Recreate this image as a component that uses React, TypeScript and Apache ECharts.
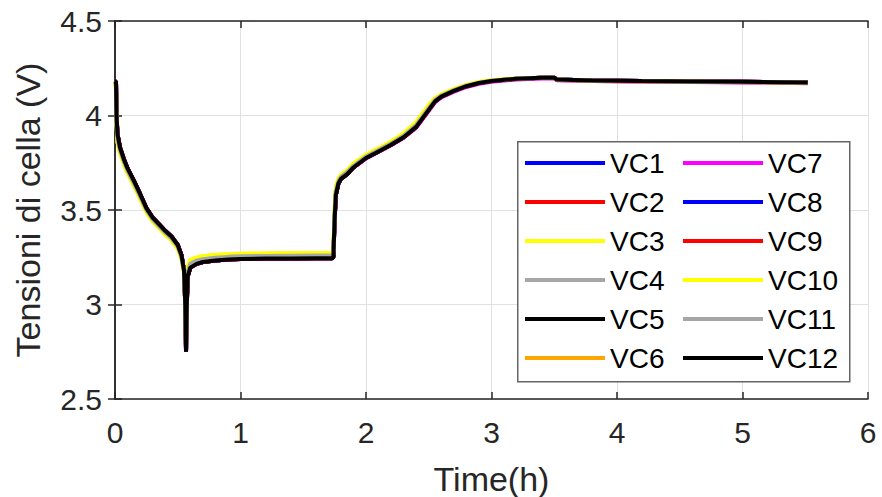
import React, { useEffect, useRef } from "react";
import * as echarts from "echarts";

// Time axis (hours)
const timeH = [0, 0.008, 0.012, 0.02, 0.04, 0.07, 0.1, 0.15, 0.2, 0.25, 0.3, 0.35, 0.4, 0.45, 0.5, 0.53, 0.55, 0.56, 0.566, 0.572, 0.58, 0.6, 0.65, 0.7, 0.8, 0.9, 1.0, 1.2, 1.4, 1.6, 1.73, 1.74, 1.75, 1.76, 1.78, 1.8, 1.85, 1.9, 2.0, 2.1, 2.2, 2.3, 2.4, 2.5, 2.55, 2.6, 2.7, 2.8, 2.9, 3.0, 3.2, 3.4, 3.5, 3.52, 3.8, 4.2, 4.6, 5.0, 5.3, 5.52];

// Cell voltages (V)
const vcNominal = [4.18, 4.18, 4.0, 3.9, 3.83, 3.77, 3.72, 3.655, 3.585, 3.51,
  3.46, 3.425, 3.39, 3.36, 3.315, 3.26, 3.18, 3.0, 2.75, 3.0,
  3.15, 3.195, 3.215, 3.225, 3.233, 3.238, 3.241, 3.243, 3.244, 3.245,
  3.245, 3.25, 3.45, 3.58, 3.64, 3.665, 3.69, 3.725, 3.775, 3.81,
  3.845, 3.885, 3.94, 4.03, 4.075, 4.1, 4.13, 4.155, 4.172, 4.183,
  4.195, 4.2, 4.2, 4.19, 4.185, 4.182, 4.18, 4.178, 4.176, 4.174];

const vcYellow = [4.17, 4.15, 3.96, 3.86, 3.8, 3.745, 3.695, 3.63, 3.56, 3.49,
  3.44, 3.405, 3.37, 3.34, 3.295, 3.24, 3.17, 3.0, 2.78, 3.05,
  3.2, 3.235, 3.248, 3.255, 3.262, 3.266, 3.268, 3.27, 3.271, 3.272,
  3.272, 3.28, 3.5, 3.62, 3.665, 3.685, 3.71, 3.745, 3.792, 3.826,
  3.862, 3.905, 3.965, 4.055, 4.09, 4.112, 4.14, 4.162, 4.177, 4.186,
  4.196, 4.2, 4.2, 4.19, 4.184, 4.181, 4.179, 4.177, 4.175, 4.173];

const vcGray = [4.18, 4.16, 3.98, 3.88, 3.815, 3.757, 3.707, 3.642, 3.572, 3.5,
  3.45, 3.415, 3.38, 3.35, 3.305, 3.25, 3.175, 3.0, 2.76, 3.02,
  3.175, 3.215, 3.232, 3.24, 3.248, 3.252, 3.255, 3.257, 3.258, 3.259,
  3.259, 3.265, 3.47, 3.6, 3.652, 3.675, 3.7, 3.734, 3.783, 3.817,
  3.852, 3.893, 3.95, 4.04, 4.082, 4.105, 4.134, 4.158, 4.174, 4.184,
  4.195, 4.2, 4.2, 4.19, 4.185, 4.182, 4.18, 4.178, 4.176, 4.174];

const vcOrange = [4.18, 4.17, 3.99, 3.89, 3.825, 3.765, 3.715, 3.65, 3.58, 3.505,
  3.455, 3.42, 3.385, 3.355, 3.31, 3.255, 3.18, 3.0, 2.77, 3.04,
  3.19, 3.23, 3.245, 3.252, 3.258, 3.262, 3.265, 3.267, 3.268, 3.269,
  3.269, 3.275, 3.48, 3.6, 3.65, 3.672, 3.696, 3.73, 3.779, 3.813,
  3.848, 3.888, 3.943, 4.033, 4.077, 4.101, 4.131, 4.155, 4.171, 4.182,
  4.193, 4.198, 4.198, 4.188, 4.183, 4.18, 4.178, 4.176, 4.174, 4.172];

const vcMagenta = [4.18, 4.18, 4.0, 3.9, 3.83, 3.77, 3.72, 3.655, 3.585, 3.51,
  3.46, 3.425, 3.39, 3.36, 3.315, 3.26, 3.18, 3.0, 2.75, 3.0,
  3.15, 3.195, 3.215, 3.225, 3.233, 3.238, 3.241, 3.243, 3.244, 3.245,
  3.245, 3.25, 3.45, 3.58, 3.64, 3.665, 3.69, 3.724, 3.773, 3.808,
  3.843, 3.882, 3.936, 4.025, 4.07, 4.096, 4.126, 4.151, 4.168, 4.179,
  4.191, 4.196, 4.197, 4.187, 4.182, 4.179, 4.177, 4.175, 4.173, 4.171];

const seriesNames = ["VC1", "VC2", "VC3", "VC4", "VC5", "VC6", "VC7", "VC8", "VC9", "VC10", "VC11", "VC12"];
const seriesColors = ["#0000ff", "#ff0000", "#ffff00", "#a6a6a6", "#000000", "#ffa500", "#ff00ff", "#0000ff", "#ff0000", "#ffff00", "#a6a6a6", "#000000"];
const seriesValues = [vcNominal, vcNominal, vcYellow, vcGray, vcNominal, vcOrange, vcMagenta, vcNominal, vcNominal, vcYellow, vcGray, vcNominal];

const xTicks = { min: 0, max: 6, interval: 1 };
const yTicks = { min: 2.5, max: 4.5, interval: 0.5 };

const FONT = "'Liberation Sans', Arial, Helvetica, sans-serif";
const AX = "#262626";

export default function App() {
  const ref = useRef<HTMLDivElement>(null);
  useEffect(() => {
    if (!ref.current) return;
    const chart = echarts.init(ref.current, undefined, { renderer: "svg" });
    const series = seriesNames.map((name, i) => ({
      name,
      type: "line",
      xAxisIndex: 0,
      yAxisIndex: 0,
      data: timeH.map((t, j) => [t, seriesValues[i][j]]),
      symbol: "none",
      showSymbol: false,
      lineStyle: { color: seriesColors[i], width: 4 },
      itemStyle: { color: seriesColors[i] },
      z: 2,
    }));
    const legendCommon = {
      orient: "vertical",
      icon: "rect",
      itemWidth: 80,
      itemHeight: 4,
      itemGap: 9,
      padding: 0,
      top: 148,
      z: 5,
      selectedMode: false,
      textStyle: { fontSize: 28, lineHeight: 30, color: "#000", fontFamily: FONT },
    };
    chart.setOption({
      animation: false,
      backgroundColor: "#fff",
      grid: { left: 115, right: 14, top: 21, bottom: 98, show: false, containLabel: false, outerBoundsMode: "none" },
      legend: [
        { ...legendCommon, left: 525, data: seriesNames.slice(0, 6) },
        { ...legendCommon, left: 683, data: seriesNames.slice(6) },
      ],
      graphic: {
        elements: [
          {
            type: "rect",
            z: 3,
            left: 517,
            top: 141,
            shape: { width: 332, height: 240 },
            style: { fill: "#fff", stroke: "#646464", lineWidth: 1.5 },
          },
        ],
      },
      xAxis: [
        {
          type: "value",
          position: "bottom",
          ...xTicks,
          name: "Time(h)",
          nameLocation: "middle",
          nameGap: 63,
          nameTextStyle: { fontSize: 34, color: AX, fontFamily: FONT },
          axisLine: { show: true, lineStyle: { color: AX, width: 1.5 } },
          axisTick: { show: true, inside: true, length: 7, lineStyle: { color: AX, width: 1.5 } },
          axisLabel: { fontSize: 30, color: AX, fontFamily: FONT, margin: 18 },
          splitLine: { show: true, lineStyle: { color: "#e1e1e1", width: 1 } },
        },
        {
          type: "value",
          position: "top",
          ...xTicks,
          axisLine: { show: true, lineStyle: { color: AX, width: 1.5 } },
          axisTick: { show: true, inside: true, length: 7, lineStyle: { color: AX, width: 1.5 } },
          axisLabel: { show: false },
          splitLine: { show: false },
        },
      ],
      yAxis: [
        {
          type: "value",
          position: "left",
          ...yTicks,
          name: "Tensioni di cella (V)",
          nameLocation: "middle",
          nameGap: 70,
          nameTextStyle: { fontSize: 34, color: AX, fontFamily: FONT },
          axisLine: { show: true, lineStyle: { color: AX, width: 1.5 } },
          axisTick: { show: true, inside: true, length: 7, lineStyle: { color: AX, width: 1.5 } },
          axisLabel: { fontSize: 30, color: AX, fontFamily: FONT, margin: 13 },
          splitLine: { show: true, lineStyle: { color: "#e1e1e1", width: 1 } },
        },
        {
          type: "value",
          position: "right",
          ...yTicks,
          axisLine: { show: true, lineStyle: { color: AX, width: 1.5 } },
          axisTick: { show: true, inside: true, length: 7, lineStyle: { color: AX, width: 1.5 } },
          axisLabel: { show: false },
          splitLine: { show: false },
        },
      ],
      series,
    });
    return () => chart.dispose();
  }, []);
  return (
    <div
      ref={ref}
      style={{ width: 882, height: 497, position: "absolute", left: 0, top: 0 }}
    />
  );
}
